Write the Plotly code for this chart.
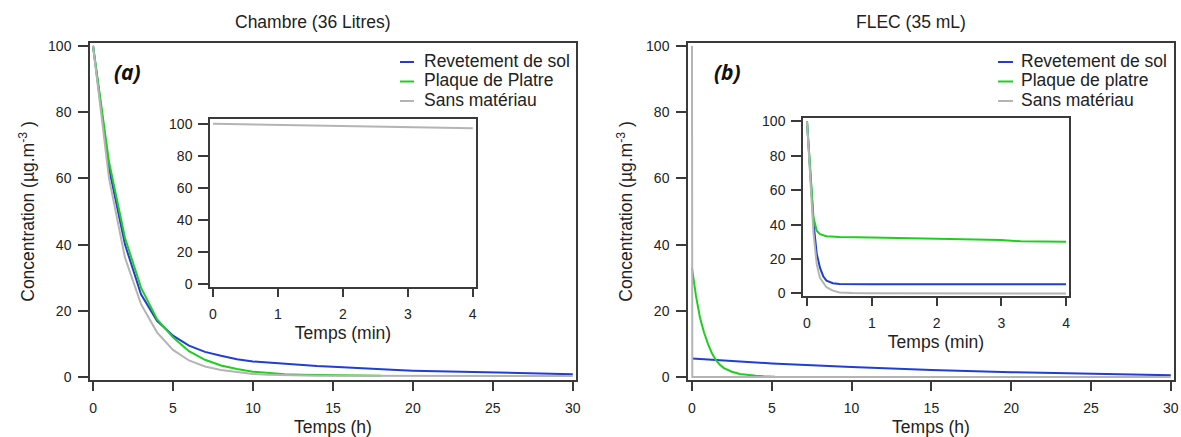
import plotly.graph_objects as go

W, H = 1181, 437

# ---------------- Panel (a) : Chambre (36 Litres), time in hours ----------------
a_hours = list(range(0, 31))
a_revetement = [100, 63, 40, 25, 17, 12.5, 9.5, 7.6, 6.4, 5.4, 4.7, 4.3, 3.9, 3.6, 3.3, 3.1,
                2.8, 2.6, 2.3, 2.1, 1.9, 1.8, 1.6, 1.5, 1.3, 1.2, 1.1, 1.0, 0.95, 0.9, 0.85]
a_plaque_hours = list(range(0, 19))
a_plaque = [100, 65, 42, 27, 17.5, 12, 7.8, 5.2, 3.5, 2.4, 1.6, 1.1, 0.8, 0.65, 0.55, 0.5,
            0.45, 0.4, 0.35]
a_sans = [100, 60, 36, 22, 13.5, 8.2, 5, 3.2, 2.1, 1.4, 0.9, 0.7, 0.55, 0.45, 0.4, 0.35,
          0.35, 0.3, 0.3, 0.3, 0.3, 0.3, 0.3, 0.3, 0.3, 0.3, 0.3, 0.3, 0.3, 0.3, 0.3]
# inset (a), time in minutes
a_in_min = [0, 1, 2, 3, 4]
a_in_sans = [100, 99.3, 98.6, 97.9, 97.2]

# ---------------- Panel (b) : FLEC (35 mL), time in hours ----------------
b_rev_hours = [0, 5, 10, 15, 20, 25, 30]
b_rev = [5.6, 4.1, 3.0, 2.1, 1.45, 0.95, 0.55]
b_plaque_hours = [0, 0.25, 0.5, 0.75, 1, 1.25, 1.5, 1.75, 2, 2.5, 3, 3.5, 4, 4.5, 5.2]
b_plaque = [33, 24.5, 18, 13.5, 10, 7.2, 5.1, 3.7, 2.7, 1.6, 0.9, 0.55, 0.35, 0.2, 0.1]
b_sans_hours = [0, 0.002, 0.004, 0.008, 0.02, 30]
b_sans = [100, 45, 10, 1.5, 0, 0]
# inset (b), time in minutes
b_in_rev_min = [0, 0.035, 0.07, 0.1, 0.15, 0.2, 0.25, 0.3, 0.4, 0.5, 1, 2, 3, 4]
b_in_rev = [100, 78, 55, 41, 23, 15, 10, 7.4, 5.9, 5.5, 5.4, 5.3, 5.3, 5.3]
b_in_plaque_min = [0, 0.035, 0.07, 0.1, 0.15, 0.2, 0.3, 0.5, 1, 2, 3, 3.3, 4]
b_in_plaque = [100, 80, 58, 44, 36.5, 34.5, 33.3, 32.8, 32.5, 31.8, 31.0, 30.3, 30.0]
b_in_sans_min = [0, 0.035, 0.07, 0.1, 0.15, 0.2, 0.3, 0.4, 0.5, 0.7, 1, 4]
b_in_sans = [100, 76, 52, 35, 17, 9, 3.6, 1.6, 0.6, 0.2, 0.05, 0]

legend_a = ["Revetement de sol", "Plaque de Platre", "Sans matériau"]
legend_b = ["Revetement de sol", "Plaque de platre", "Sans matériau"]

BLUE = "#1f3fd2"
GREEN = "#1ecf1e"
GRAY = "#b4b4b4"
colors = [BLUE, GREEN, GRAY]
FONT = "Liberation Sans, Arial, sans-serif"
AX = "#3a3a3a"


def px_x(p):
    return p / W


def px_y(p):
    return (H - p) / H


fig = go.Figure()


def line(x, y, xa, ya, c, name):
    fig.add_trace(go.Scatter(x=x, y=y, xaxis=xa, yaxis=ya, mode="lines", name=name,
                             line=dict(color=c, width=2), showlegend=False))


line(a_hours, a_revetement, "x", "y", BLUE, legend_a[0])
line(a_plaque_hours, a_plaque, "x", "y", GREEN, legend_a[1])
line(a_hours, a_sans, "x", "y", GRAY, legend_a[2])
line(a_in_min, a_in_sans, "x2", "y2", GRAY, legend_a[2])

line(b_rev_hours, b_rev, "x3", "y3", BLUE, legend_b[0])
line(b_plaque_hours, b_plaque, "x3", "y3", GREEN, legend_b[1])
line(b_sans_hours, b_sans, "x3", "y3", GRAY, legend_b[2])
line(b_in_rev_min, b_in_rev, "x4", "y4", BLUE, legend_b[0])
line(b_in_plaque_min, b_in_plaque, "x4", "y4", GREEN, legend_b[1])
line(b_in_sans_min, b_in_sans, "x4", "y4", GRAY, legend_b[2])

common = dict(showline=True, linecolor=AX, linewidth=1.5, mirror=True, ticks="outside",
              tickwidth=1.5, tickcolor=AX, showgrid=False, zeroline=False,
              tickfont=dict(size=14, color="#222", family=FONT))

ytitle = dict(text="Concentration (µg.m<sup>-3</sup> )", font=dict(size=17.5, color="#222", family=FONT),
              standoff=9)

fig.update_layout(
    width=W, height=H, margin=dict(l=0, r=0, t=0, b=0, autoexpand=False),
    paper_bgcolor="white", plot_bgcolor="white", showlegend=False,
    font=dict(family=FONT, color="#222"),
    xaxis=dict(domain=[px_x(90), px_x(576)], range=[-0.19, 30.2], anchor="y",
               tickvals=[0, 5, 10, 15, 20, 25, 30], ticklen=9, ticklabelstandoff=5,
               title=dict(text="Temps (h)", font=dict(size=17.5, color="#222", family=FONT), standoff=9),
               **common),
    yaxis=dict(domain=[px_y(380), px_y(43)], range=[-0.9, 100.9], anchor="x",
               tickvals=[0, 20, 40, 60, 80, 100], ticklen=10, ticklabelstandoff=4,
               title=ytitle, **common),
    xaxis2=dict(domain=[px_x(210), px_x(476)], range=[-0.046, 4.05], anchor="y2",
                tickvals=[0, 1, 2, 3, 4], ticklen=8, ticklabelstandoff=5,
                title=dict(text="Temps (min)", font=dict(size=17.5, color="#222", family=FONT), standoff=6),
                **common),
    yaxis2=dict(domain=[px_y(287), px_y(119)], range=[-1.6, 103], anchor="x2",
                tickvals=[0, 20, 40, 60, 80, 100], ticklen=10, ticklabelstandoff=3, **common),
    xaxis3=dict(domain=[px_x(688), px_x(1174)], range=[-0.25, 30.2], anchor="y3",
                tickvals=[0, 5, 10, 15, 20, 25, 30], ticklen=9, ticklabelstandoff=5,
                title=dict(text="Temps (h)", font=dict(size=17.5, color="#222", family=FONT), standoff=9),
                **common),
    yaxis3=dict(domain=[px_y(380), px_y(43)], range=[-0.9, 100.9], anchor="x3",
                tickvals=[0, 20, 40, 60, 80, 100], ticklen=10, ticklabelstandoff=4,
                title=ytitle, **common),
    xaxis4=dict(domain=[px_x(803), px_x(1069)], range=[-0.062, 4.046], anchor="y4",
                tickvals=[0, 1, 2, 3, 4], ticklen=8, ticklabelstandoff=5,
                title=dict(text="Temps (min)", font=dict(size=17.5, color="#222", family=FONT), standoff=6),
                **common),
    yaxis4=dict(domain=[px_y(296), px_y(118)], range=[-1.5, 102], anchor="x4",
                tickvals=[0, 20, 40, 60, 80, 100], ticklen=10, ticklabelstandoff=3, **common),
)

ann = []
shapes = []
# panel titles
ann.append(dict(text="Chambre (36 Litres)", x=px_x(313), y=px_y(22), xref="paper", yref="paper",
                xanchor="center", yanchor="middle",
                showarrow=False, font=dict(size=17.5, color="#222", family=FONT)))
ann.append(dict(text="FLEC (35 mL)", x=px_x(911), y=px_y(22), xref="paper", yref="paper",
                xanchor="center", yanchor="middle",
                showarrow=False, font=dict(size=17.5, color="#222", family=FONT)))
# panel letters
for txt, cx in [("(a)", 127), ("(b)", 727)]:
    ann.append(dict(text="<b><i>" + txt + "</i></b>", x=px_x(cx), y=px_y(72), xref="paper", yref="paper",
                    xanchor="center", yanchor="middle",
                    showarrow=False, font=dict(size=21, color="#111", family="Open Sans, sans-serif")))
# legends
for names, lx0, lx1, tx in [(legend_a, 400, 414, 422), (legend_b, 998, 1013, 1019)]:
    for i, (nm, c) in enumerate(zip(names, colors)):
        yy = 62 + i * 19.5
        shapes.append(dict(type="line", xref="paper", yref="paper", x0=px_x(lx0), x1=px_x(lx1),
                           y0=px_y(yy), y1=px_y(yy), line=dict(color=c, width=2)))
        ann.append(dict(text=nm, x=px_x(tx), y=px_y(yy - 1.5), xref="paper", yref="paper",
                        xanchor="left", yanchor="middle", showarrow=False,
                        font=dict(size=17.5, color="#222", family=FONT)))

fig.update_layout(annotations=ann, shapes=shapes)
fig.write_html("out.html")
